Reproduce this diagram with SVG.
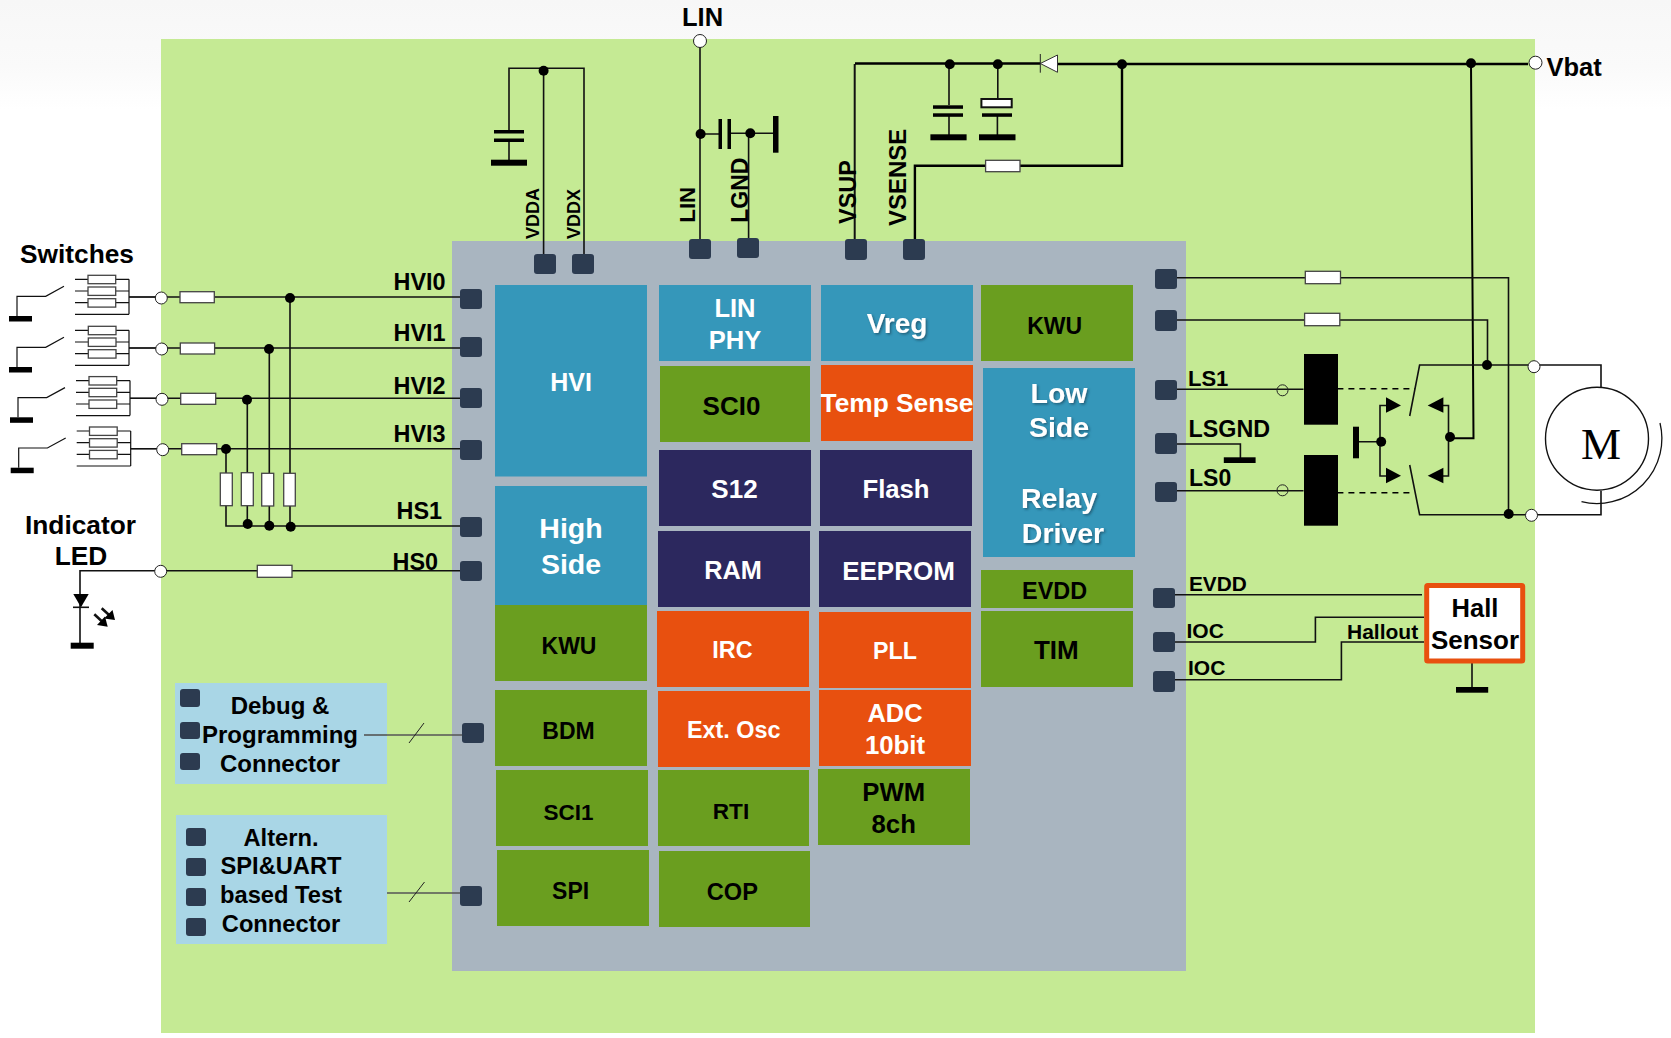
<svg xmlns="http://www.w3.org/2000/svg" width="1671" height="1038" viewBox="0 0 1671 1038">
<defs>
<linearGradient id="topband" x1="0" y1="0" x2="0" y2="1"><stop offset="0" stop-color="#f7f7f7"/><stop offset="0.6" stop-color="#fafafa"/><stop offset="1" stop-color="#ffffff"/></linearGradient>
<filter id="shadow" x="-20%" y="-20%" width="140%" height="140%"><feDropShadow dx="1.5" dy="1.5" stdDeviation="1" flood-color="#1d4a60" flood-opacity="0.7"/></filter>
</defs>
<style>
text{font-family:"Liberation Sans",Arial,sans-serif;font-weight:700;fill:#000}
.c{text-anchor:middle}
.w{fill:#fff}
.w.s{filter:url(#shadow)}
.blue{fill:#3597ba}.green{fill:#6a9e1f}.orange{fill:#e8500f}.navy{fill:#2c285e}
.pad{fill:#2c3b50}
.wire{fill:none;stroke:#111;stroke-width:1.6}
.thick{fill:none;stroke:#000;stroke-width:2.4}
.thin{fill:none;stroke:#222;stroke-width:1}
.res{fill:#fff;stroke:#444;stroke-width:1.3}
.term{fill:#fff;stroke:#222;stroke-width:1}
.dot{fill:#000}
.bar{fill:#000}
.dash{fill:none;stroke:#000;stroke-width:1.6;stroke-dasharray:6 5}
.ring{fill:none;stroke:#222;stroke-width:1}
</style>

<rect width="1671" height="110" fill="url(#topband)"/>
<rect x="161" y="39" width="1374" height="994" fill="#c5ea94"/>
<rect x="452" y="241" width="734" height="730" fill="#a9b5c0"/>

<g id="connectors">
<path class="wire" d="M129 297H460M129 348H460M130 398.300H460M130.500 448.700H460"/>
<path class="wire" d="M226 449V473M226 505V526H460M247.300 400V473M247.300 505V524M269.300 349V473M269.300 505V526M290 298V473M290 505V526"/>
<path class="wire" d="M462 570.700H80V643"/>
<path class="wire" d="M73 607.300H89"/>
<path class="wire" style="stroke-width:2.600" d="M101.700 608.300L111 616.800M94.300 614.300L103.700 623"/>
<path class="wire" style="stroke:#555" d="M364 735H462M387 893H460"/>
<path class="thin" d="M409 743L424 723M409 902L424.500 882"/>
<path class="wire" d="M543.600 68.300V254M509 131.700V68.300H584V254M509 140V160"/>
<path class="wire" d="M700 47V239M700.600 134H719.600M729 133.300H775M748.600 133V238"/>
<path class="wire" style="stroke-width:2" d="M854.700 239V64"/>
<path class="thick" d="M855 63.500H1040M1057 64H1528"/>
<path class="wire" d="M949 64V105M949 116V135M997.800 64V99M997.400 116V135"/>
<path class="thick" d="M914.900 239V165.700H985.600M1020 165.700H1122V64"/>
<path class="thick" d="M1471 64L1473.500 438.300H1450" style="stroke-width:2"/>
<path class="wire" d="M1177 277.700H1305M1340 277.700H1508.500V515"/>
<path class="wire" d="M1177 320H1304.600M1340 320H1487.500V366"/>
<path class="wire" d="M1176 389.300H1303.500M1176 490.700H1303.500"/>
<path class="dash" d="M1337.400 388.700H1415M1337.400 492.700H1413.500"/>
<path class="wire" d="M1176 444H1240.400V458"/>
<path class="wire" d="M1409.700 416L1419.600 365H1601V387M1409.700 465L1419.600 514.700H1601V490.700"/>
<path class="wire" d="M1358 441.700H1381M1386 405.500H1380V476H1386M1443 405.500H1448.500V476H1443"/>
<path class="wire" d="M1175 594.700H1422M1175 642H1315.400V617.300H1424M1175 679.700H1341.400V642H1424M1472 663V688"/>
</g>

<g id="chip-pads">
<rect class="pad" x="460" y="289" width="22" height="20" rx="3"/>
<rect class="pad" x="460" y="337" width="22" height="20" rx="3"/>
<rect class="pad" x="460" y="388" width="22" height="20" rx="3"/>
<rect class="pad" x="460" y="440" width="22" height="20" rx="3"/>
<rect class="pad" x="460" y="517" width="22" height="20" rx="3"/>
<rect class="pad" x="460" y="561" width="22" height="20" rx="3"/>
<rect class="pad" x="462" y="723" width="22" height="20" rx="3"/>
<rect class="pad" x="460" y="886" width="22" height="20" rx="3"/>
<rect class="pad" x="534" y="254" width="22" height="20" rx="3"/>
<rect class="pad" x="572" y="254" width="22" height="20" rx="3"/>
<rect class="pad" x="689" y="239" width="22" height="20" rx="3"/>
<rect class="pad" x="737" y="238" width="22" height="20" rx="3"/>
<rect class="pad" x="845" y="239" width="22" height="21" rx="3"/>
<rect class="pad" x="903" y="239" width="22" height="21" rx="3"/>
<rect class="pad" x="1155" y="269" width="22" height="20" rx="3"/>
<rect class="pad" x="1155" y="310" width="22" height="21" rx="3"/>
<rect class="pad" x="1155" y="380" width="22" height="20" rx="3"/>
<rect class="pad" x="1155" y="433" width="22" height="21" rx="3"/>
<rect class="pad" x="1155" y="482" width="22" height="20" rx="3"/>
<rect class="pad" x="1153" y="588" width="22" height="20" rx="3"/>
<rect class="pad" x="1153" y="632" width="22" height="20" rx="3"/>
<rect class="pad" x="1153" y="671" width="22" height="21" rx="3"/>
</g>

<g id="blk-hvi"><rect class="blue" x="495" y="285" width="152" height="191.500"/><text class="c w" x="571" y="390.700" font-size="25">HVI</text></g>
<g id="blk-highside"><rect class="blue" x="495" y="486" width="152" height="119"/><text class="c w" x="571" y="538.300" font-size="28.500">High</text><text class="c w" x="571" y="574" font-size="28.500">Side</text></g>
<g id="blk-kwu-left"><rect class="green" x="495" y="605" width="152" height="76"/><text class="c" x="569" y="653.800" font-size="23">KWU</text></g>
<g id="blk-bdm"><rect class="green" x="495" y="690" width="152" height="76"/><text class="c" x="568.500" y="738.500" font-size="23">BDM</text></g>
<g id="blk-sci1"><rect class="green" x="496" y="770" width="152" height="76"/><text class="c" x="568.500" y="820" font-size="22.500">SCI1</text></g>
<g id="blk-spi"><rect class="green" x="497" y="850" width="152" height="76"/><text class="c" x="570.600" y="898.700" font-size="23">SPI</text></g>
<g id="blk-linphy"><rect class="blue" x="659" y="285" width="152" height="76"/><text class="c w" x="735" y="316.700" font-size="25.500">LIN</text><text class="c w" x="735" y="348.700" font-size="25.500">PHY</text></g>
<g id="blk-sci0"><rect class="green" x="660" y="366" width="150" height="76"/><text class="c" x="731.500" y="415" font-size="26">SCI0</text></g>
<g id="blk-s12"><rect class="navy" x="659" y="450" width="152" height="76"/><text class="c w" x="734.500" y="497.800" font-size="26">S12</text></g>
<g id="blk-ram"><rect class="navy" x="658" y="531" width="152" height="76"/><text class="c w" x="733" y="578.800" font-size="25.300">RAM</text></g>
<g id="blk-irc"><rect class="orange" x="657" y="611" width="152" height="76"/><text class="c w" x="732.400" y="658" font-size="23.400">IRC</text></g>
<g id="blk-extosc"><rect class="orange" x="658" y="691" width="152" height="76"/><text class="c w" x="733.700" y="737.700" font-size="23.400">Ext. Osc</text></g>
<g id="blk-rti"><rect class="green" x="658" y="770" width="151" height="76"/><text class="c" x="731" y="818.700" font-size="22.600">RTI</text></g>
<g id="blk-cop"><rect class="green" x="659" y="851" width="151" height="76"/><text class="c" x="732.400" y="899.800" font-size="23.600">COP</text></g>
<g id="blk-vreg"><rect class="blue" x="821" y="285" width="152" height="76"/><text class="c w s" x="897" y="333" font-size="28">Vreg</text></g>
<g id="blk-temp"><rect class="orange" x="821" y="365" width="152" height="76"/><text class="c w" x="897" y="412" font-size="26.300">Temp Sense</text></g>
<g id="blk-flash"><rect class="navy" x="820" y="450" width="152" height="76"/><text class="c w" x="896" y="497.800" font-size="25.700">Flash</text></g>
<g id="blk-eeprom"><rect class="navy" x="819" y="531" width="152" height="76"/><text class="c w" x="898.500" y="579.800" font-size="26">EEPROM</text></g>
<g id="blk-pll"><rect class="orange" x="819" y="612" width="152" height="76"/><text class="c w" x="895" y="658.700" font-size="23.200">PLL</text></g>
<g id="blk-adc"><rect class="orange" x="819" y="690" width="152" height="76"/><text class="c w" x="895" y="721.700" font-size="25.400">ADC</text><text class="c w" x="895" y="753.700" font-size="25.800">10bit</text></g>
<g id="blk-pwm"><rect class="green" x="818" y="769" width="152" height="76"/><text class="c" x="893.700" y="801" font-size="25.700">PWM</text><text class="c" x="893.700" y="832.700" font-size="25.700">8ch</text></g>
<g id="blk-kwu-top"><rect class="green" x="981" y="285" width="152" height="76"/><text class="c" x="1054.600" y="333.800" font-size="23">KWU</text></g>
<g id="blk-lowside"><rect class="blue" x="983" y="368" width="152" height="189"/><text class="c w s" x="1059" y="402.700" font-size="28.500">Low</text><text class="c w s" x="1059" y="437.300" font-size="28.500">Side</text><text class="c w s" x="1059" y="508.300" font-size="28.500">Relay</text><text class="c w s" x="1063" y="543" font-size="28.500">Driver</text></g>
<g id="blk-evdd"><rect class="green" x="981" y="570" width="152" height="38"/><text class="c" x="1054.600" y="598.800" font-size="23.400">EVDD</text></g>
<g id="blk-tim"><rect class="green" x="981" y="611" width="152" height="76"/><text class="c" x="1056.300" y="658.700" font-size="26">TIM</text></g>

<g id="debug-connector">
<rect x="175" y="683" width="212" height="101" fill="#a9d6e6"/>
<rect class="pad" x="180" y="689" width="20" height="18" rx="3"/><rect class="pad" x="180" y="722" width="20" height="17" rx="3"/><rect class="pad" x="180" y="753" width="20" height="17" rx="3"/>
<text class="c" x="280" y="713.700" font-size="24">Debug &amp;</text><text class="c" x="280" y="742.700" font-size="24">Programming</text><text class="c" x="280" y="771.700" font-size="24">Connector</text>
<path class="wire" style="stroke:#555" d="M364 735H387"/>
</g>
<g id="test-connector">
<rect x="176" y="815" width="211" height="129" fill="#a9d6e6"/>
<rect class="pad" x="186" y="828" width="20" height="18" rx="3"/><rect class="pad" x="186" y="858" width="20" height="18" rx="3"/><rect class="pad" x="186" y="888" width="20" height="18" rx="3"/><rect class="pad" x="186" y="918" width="20" height="18" rx="3"/>
<text class="c" x="281" y="846" font-size="23.700">Altern.</text><text class="c" x="281" y="874" font-size="23.700">SPI&amp;UART</text><text class="c" x="281" y="903.300" font-size="23.700">based Test</text><text class="c" x="281" y="932" font-size="23.700">Connector</text>
</g>

<g id="switches">
<text x="20" y="262.700" font-size="26.300">Switches</text>
<g id="sw0">
<rect class="bar" x="9" y="316" width="23" height="5.500"/>
<path class="wire" style="stroke-width:1.200" d="M17 316V296.300H45.700L64 286.300"/>
<path class="wire" style="stroke-width:1.200" d="M75 279.300H129M75 291H129M75 302.700H129M75 314.300H129M129 279.300V314.300M129 297H161"/>
<rect class="res" x="88" y="275.300" width="27.700" height="8.400"/><rect class="res" x="88" y="287" width="27.700" height="8.400"/><rect class="res" x="88" y="298.700" width="27.700" height="8.400"/>
</g>
<g id="sw1">
<rect class="bar" x="9" y="367" width="23" height="5.500"/>
<path class="wire" style="stroke-width:1.200" d="M17 367V347.300H45.700L64 337.300"/>
<path class="wire" style="stroke-width:1.200" d="M75 330.300H129M75 342H129M75 353.700H129M75 365.300H129M129 330.300V365.300M129 348H161"/>
<rect class="res" x="88.300" y="326.300" width="27.700" height="8.400"/><rect class="res" x="88.300" y="338" width="27.700" height="8.400"/><rect class="res" x="88.300" y="349.700" width="27.700" height="8.400"/>
</g>
<g id="sw2">
<rect class="bar" x="10" y="417.300" width="23" height="5.500"/>
<path class="wire" style="stroke-width:1.200" d="M18 417.300V397.600H46.700L65 387.600"/>
<path class="wire" style="stroke-width:1.200" d="M76 380.600H130M76 392.300H130M76 404H130M76 415.600H130M130 380.600V415.600M130 398.300H162"/>
<rect class="res" x="89" y="376.600" width="27.700" height="8.400"/><rect class="res" x="89" y="388.300" width="27.700" height="8.400"/><rect class="res" x="89" y="400" width="27.700" height="8.400"/>
</g>
<g id="sw3">
<rect class="bar" x="10.700" y="467.700" width="23" height="5.500"/>
<path class="wire" style="stroke-width:1.200" d="M18.700 467.700V448H47.400L65.700 438"/>
<path class="wire" style="stroke-width:1.200" d="M76.700 431H130.700M76.700 442.700H130.700M76.700 454.400H130.700M76.700 466H130.700M130.700 431V466M130.700 448.700H162"/>
<rect class="res" x="89.500" y="427" width="27.700" height="8.400"/><rect class="res" x="89.500" y="438.700" width="27.700" height="8.400"/><rect class="res" x="89.500" y="450.400" width="27.700" height="8.400"/>
</g>
</g>

<g id="hvi-parts">
<circle class="term" cx="161.300" cy="298" r="6"/><circle class="term" cx="161.700" cy="349" r="6"/><circle class="term" cx="162" cy="399.300" r="6"/><circle class="term" cx="162.700" cy="449.700" r="6"/>
<rect class="res" x="180" y="291.700" width="34.300" height="11"/><rect class="res" x="180.300" y="343" width="34.300" height="11"/><rect class="res" x="180.700" y="393.300" width="35" height="11"/><rect class="res" x="181.700" y="443.700" width="35" height="11"/>
<rect class="res" x="220.300" y="473" width="12" height="32.700"/><rect class="res" x="241.300" y="472.700" width="12" height="33"/><rect class="res" x="261.700" y="473.300" width="12" height="32.700"/><rect class="res" x="283.700" y="473.300" width="11.600" height="32.700"/>
<circle class="dot" cx="290" cy="298" r="5"/><circle class="dot" cx="269" cy="349" r="5"/><circle class="dot" cx="247" cy="399.700" r="5"/><circle class="dot" cx="226" cy="449" r="5"/>
<circle class="dot" cx="247.700" cy="524" r="5"/><circle class="dot" cx="269.300" cy="525.700" r="5"/><circle class="dot" cx="290.700" cy="526.700" r="5"/>
<text x="393.500" y="290" font-size="23.400">HVI0</text><text x="393.500" y="340.500" font-size="23.400">HVI1</text><text x="393.500" y="393.500" font-size="23.400">HVI2</text><text x="393.500" y="442" font-size="23.400">HVI3</text>
<text x="396.500" y="519" font-size="23.400">HS1</text><text x="392.500" y="569.500" font-size="23.400">HS0</text>
</g>

<g id="indicator-led">
<text class="c" x="80.500" y="534" font-size="26.300">Indicator</text><text class="c" x="81" y="565" font-size="26.300">LED</text>
<circle class="term" cx="160.700" cy="571.300" r="6"/>
<rect class="res" x="257.300" y="565.300" width="34.700" height="12"/>
<polygon class="dot" points="73.300,594 88.700,594 81,607.300"/>
<rect class="bar" x="70.700" y="642.700" width="23" height="6"/>
<polygon class="dot" points="115,620 104,618.500 112.500,610"/>
<polygon class="dot" points="107.700,626.700 97,625 105,616.500"/>
</g>

<g id="lin-net">
<text class="c" x="702.600" y="25.700" font-size="25.500">LIN</text>
<circle class="term" cx="700" cy="41" r="6.500"/>
<circle class="dot" cx="700.600" cy="134" r="5"/><circle class="dot" cx="750.300" cy="133.300" r="5"/>
<rect class="bar" x="718.500" y="119" width="3.500" height="30"/><rect class="bar" x="727.500" y="119" width="3.500" height="30"/>
<rect class="bar" x="773" y="116" width="5.500" height="36.700"/>
<text transform="translate(694.500 222.700) rotate(-90)" font-size="22.300">LIN</text>
<text transform="translate(747.500 222.700) rotate(-90)" font-size="23">LGND</text>
</g>

<g id="vdd-net">
<circle class="dot" cx="543.600" cy="70.700" r="5"/>
<rect class="bar" x="494" y="130" width="30" height="3.500"/><rect class="bar" x="494" y="138.500" width="30" height="3.500"/>
<rect class="bar" x="491" y="159.700" width="36" height="6"/>
<text transform="translate(539 239) rotate(-90)" font-size="18">VDDA</text>
<text transform="translate(579.500 239) rotate(-90)" font-size="18">VDDX</text>
</g>

<g id="supply-net">
<text transform="translate(855.500 224) rotate(-90)" font-size="23.500">VSUP</text>
<text transform="translate(906 226) rotate(-90)" font-size="24">VSENSE</text>
<circle class="dot" cx="949.800" cy="64.300" r="5"/><circle class="dot" cx="997.800" cy="64.300" r="5"/><circle class="dot" cx="1122" cy="64.300" r="5"/><circle class="dot" cx="1471" cy="63.300" r="5"/>
<rect class="bar" x="933" y="105.300" width="30" height="3.500"/><rect class="bar" x="933" y="113.300" width="30" height="3.500"/><rect class="bar" x="930.400" y="134.300" width="36.200" height="6"/>
<rect x="981.400" y="99" width="30.300" height="8.300" fill="#fff" stroke="#111" stroke-width="2"/>
<rect class="bar" x="982" y="113.300" width="30" height="3.500"/><rect class="bar" x="979" y="134.300" width="36.500" height="6"/>
<polygon points="1040.300,63.500 1057.500,55 1057.500,72.300" fill="#fff" stroke="#333" stroke-width="1"/>
<path class="thin" d="M1040.300 54V72.700"/>
<rect class="res" x="985.600" y="160.300" width="34.400" height="11.400"/>
<circle class="term" cx="1535.500" cy="62.700" r="6.500"/>
<text x="1546.500" y="75.500" font-size="25.500">Vbat</text>
</g>

<g id="right-resistors">
<rect class="res" x="1305.300" y="271.300" width="35.200" height="12.400"/>
<rect class="res" x="1304.600" y="313.300" width="35.200" height="12.400"/>
</g>

<g id="relay">
<text x="1188" y="385.700" font-size="22">LS1</text>
<text x="1188.500" y="436.700" font-size="23.300">LSGND</text>
<text x="1189" y="486" font-size="23">LS0</text>
<rect class="bar" x="1223.800" y="457.300" width="31.800" height="5.700"/>
<circle class="ring" cx="1282.500" cy="390.300" r="5.500"/><circle class="ring" cx="1282.500" cy="490.300" r="5.500"/>
<rect class="bar" x="1304" y="354" width="34" height="70.700"/>
<rect class="bar" x="1304" y="455" width="34" height="70.700"/>
</g>

<g id="bridge">
<rect class="bar" x="1353" y="426.700" width="6" height="31.600"/>
<circle class="dot" cx="1381.200" cy="441.700" r="5"/><circle class="dot" cx="1450" cy="437" r="5"/><circle class="dot" cx="1487" cy="365" r="5"/><circle class="dot" cx="1508.700" cy="514" r="5"/>
<polygon class="dot" points="1386,397.300 1401,405.500 1386,412.700"/>
<polygon class="dot" points="1386,467.700 1401,475.700 1386,483.300"/>
<polygon class="dot" points="1443.400,397.300 1427.700,405.500 1443.400,412.700"/>
<polygon class="dot" points="1443.400,467.700 1427.700,475.700 1443.400,483.300"/>
<circle class="term" cx="1534" cy="366.700" r="6"/><circle class="term" cx="1531.500" cy="515.300" r="6"/>
</g>

<g id="motor">
<circle cx="1597" cy="438.700" r="51.500" fill="#fff" stroke="#111" stroke-width="1.400"/>
<path class="wire" style="stroke-width:1.300" d="M1660 423A65 65 0 0 1 1581.500 501.700"/>
<text class="c" x="1601" y="459.300" font-size="45" style="font-family:'Liberation Serif',serif;font-weight:400">M</text>
</g>

<g id="hall-sensor">
<rect x="1426.700" y="585.500" width="96" height="75.500" fill="#fff" stroke="#e8500f" stroke-width="5" rx="1"/>
<text class="c" x="1475" y="616.700" font-size="25.500">Hall</text>
<text class="c" x="1475" y="648.700" font-size="26">Sensor</text>
<rect class="bar" x="1456" y="687" width="32.200" height="5.700"/>
<text x="1189" y="591" font-size="20.800">EVDD</text>
<text x="1186.500" y="638" font-size="21">IOC</text>
<text x="1188" y="675" font-size="21">IOC</text>
<text x="1347" y="639.300" font-size="21">Hallout</text>
</g>
</svg>
